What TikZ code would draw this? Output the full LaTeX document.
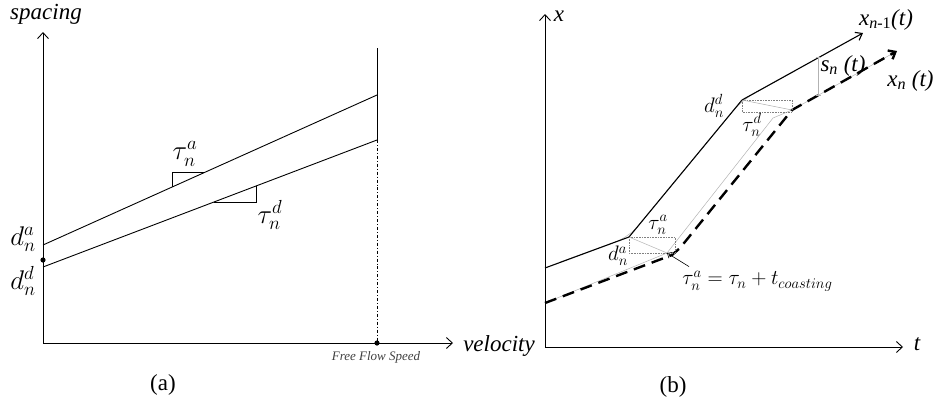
\RequirePackage{fix-cm}
\documentclass[tikz,border=0pt]{standalone}
\usepackage{fontspec}
\setmainfont{Liberation Serif}
\usetikzlibrary{arrows.meta}

\tikzset{
  axis/.style={-{Straight Barb[length=6pt,width=11pt]}},
  biglab/.style={font=\fontsize{23}{25}\selectfont},
  mathlab/.style={font=\fontsize{27}{29}\selectfont, inner sep=0pt},
  smalllab/.style={font=\fontsize{21}{23}\selectfont, inner sep=0pt},
  guide/.style={gray!60, line width=0.5pt},
  box/.style={gray, densely dotted, line width=0.6pt},
}

\begin{document}
\begin{tikzpicture}[x=1pt, y=-1pt, line width=0.9pt]
  \useasboundingbox (0,0) rectangle (935,405);

  % (a) spacing against velocity
  \coordinate (oa) at (43,343);
  \coordinate (ffs) at (377,343);
  \draw[axis] (oa) -- (43,32);
  \draw[axis] (oa) -- (453,343);
  \draw (43,245) -- (377,95);
  \draw (43,267) -- (377,140);
  \draw (377,48) -- (377,140);
  \draw[dash dot, line width=0.7pt] (377,140) -- (ffs);
  \fill (ffs) circle (2.6);
  \fill (43,260) circle (2.6);
  \draw (172,187) -- (172,172) -- (205,172);
  \draw (214,202) -- (256,202) -- (256,186);

  \node[biglab] (spc) at (46,14) {\itshape spacing};
  \node[biglab] (vel) at (499,346) {\itshape velocity};
  \node[mathlab] (dna) at (23,239) {$d_n^a$};
  \node[mathlab] (dnd) at (23,281) {$d_n^d$};
  \node[mathlab] (tna) at (185,154) {$\tau_n^a$};
  \node[mathlab] (tnd) at (270,215) {$\tau_n^d$};
  \node[font=\fontsize{13}{15}\selectfont\itshape, text=black!75] (ffl) at (376,357) {Free Flow Speed};
  \node[biglab] (capa) at (163,385) {(a)};

  % (b) trajectories
  \coordinate (ob) at (545,347);
  \draw[axis] (ob) -- (545,14);
  \draw[axis] (ob) -- (903,347);
  \node[biglab] (xax) at (559,16) {\itshape x};
  \node[biglab] (tax) at (917,344) {\itshape t};

  % leader
  \coordinate (p0) at (545,268);
  \coordinate (p1) at (629,237);
  \coordinate (p2) at (742,100);
  \coordinate (p3) at (863,33);
  \draw[guide, rounded corners=14pt] (560,262) -- (p1) -- (p2) -- (795,71);
  \draw[line width=1.1pt, -{Straight Barb[length=6pt,width=9pt]}] (p0) -- (p1) -- (p2) -- (p3);

  % follower
  \coordinate (q0) at (545,303);
  \coordinate (q1) at (672,255);
  \coordinate (q2) at (680,248);
  \coordinate (q3) at (792,110);
  \coordinate (q4) at (897,51);
  \coordinate (g1) at (667,253);
  \coordinate (g2) at (773,118);
  \draw[guide] (q0) -- (g1) -- (g2) -- (q3) -- (q4);
  \draw[line width=2.4pt, dash pattern=on 12pt off 7pt, -{Straight Barb[length=6pt,width=10pt]}]
    (q0) -- (q1) -- (q2) -- (q3) -- (q4);

  % shifts
  \draw[box] (p1) rectangle (675,253);
  \draw[box] (p2) rectangle (792,112);
  \draw[guide] (p1) -- (g1);
  \draw[guide] (p2) -- (q3);
  \draw[guide, {Bar[width=5pt]}-{Bar[width=5pt]}] (818,57) -- (818,95);

  \node[smalllab] (dnd2) at (714,106) {$d_n^d$};
  \node[smalllab] (tnd2) at (752,125) {$\tau_n^d$};
  \node[smalllab] (tna2) at (658,225) {$\tau_n^a$};
  \node[smalllab] (dna2) at (618,256) {$d_n^a$};
  \node[smalllab, anchor=west] (coast) at (682,281) {$\tau_n^a = \tau_n + t_{coasting}$};
  \draw[line width=0.6pt, -{Straight Barb[length=4pt,width=7pt]}] (coast.north west) ++(7,-4) -- (g1);

  \node[biglab] (lead) at (886,20) {\itshape x\textsubscript{n\upshape -1}(t)};
  \node[biglab] (gap) at (843,66) {\itshape s\textsubscript{n} (t)};
  \node[biglab, anchor=east, inner sep=1pt] (foll) at (935,81) {\itshape x\textsubscript{n} (t)};
  \node[biglab] (capb) at (673,387) {(b)};
\end{tikzpicture}
\end{document}
